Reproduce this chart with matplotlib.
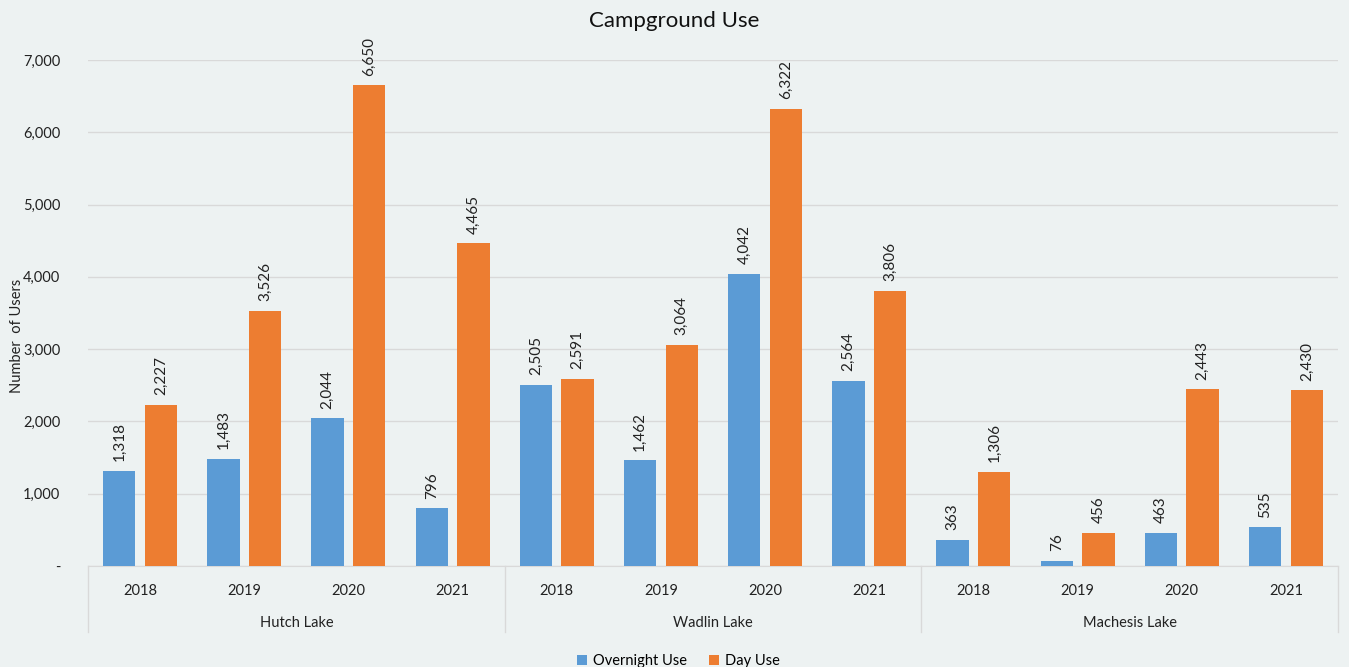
import matplotlib
matplotlib.use("Agg")
import matplotlib.pyplot as plt
import matplotlib.transforms as mtransforms
import numpy as np

plt.rcParams['font.family'] = ['Lato', 'DejaVu Sans']

lakes = ["Hutch Lake", "Wadlin Lake", "Machesis Lake"]
years = ["2018", "2019", "2020", "2021"]
overnight = [1318, 1483, 2044, 796, 2505, 1462, 4042, 2564, 363, 76, 463, 535]
day_use = [2227, 3526, 6650, 4465, 2591, 3064, 6322, 3806, 1306, 456, 2443, 2430]
yticks = [0, 1000, 2000, 3000, 4000, 5000, 6000, 7000]
ytick_labels = ["-", "1,000", "2,000", "3,000", "4,000", "5,000", "6,000", "7,000"]

bg = "#EDF2F2"
blue = "#5B9BD5"
orange = "#ED7D31"

W, H = 1349, 667
fig = plt.figure(figsize=(W / 100, H / 100), dpi=100, facecolor=bg)
ax = fig.add_axes([88 / W, 101 / H, 1250 / W, 506 / H], facecolor=bg)

n = len(overnight)
x = np.arange(n) + 0.5
bw = 0.31
off = 0.2
b1 = ax.bar(x - off, overnight, bw, color=blue, label="Overnight Use", zorder=3)
b2 = ax.bar(x + off, day_use, bw, color=orange, label="Day Use", zorder=3)

for bars, vals in ((b1, overnight), (b2, day_use)):
    for rect, v in zip(bars, vals):
        ax.annotate(f"{v:,}", (rect.get_x() + rect.get_width() / 2, rect.get_height()),
                    xytext=(0, 7), textcoords="offset points", rotation=90,
                    ha="center", va="bottom", fontsize=11, color="#222222",
                    annotation_clip=False)

ax.set_xlim(0, n)
ax.set_ylim(0, 7000)
ax.set_yticks(yticks)
ax.set_yticklabels(ytick_labels, fontsize=10.5, color="#222222")
ax.yaxis.grid(True, color="#D9D9D9", linewidth=1, zorder=0)
ax.tick_params(axis="y", length=0, pad=20)
for s in ("top", "right", "left"):
    ax.spines[s].set_visible(False)
ax.spines["bottom"].set_color("#D9D9D9")

ax.set_xticks(x)
ax.set_xticklabels(years * len(lakes), fontsize=10.5, color="#222222")
ax.tick_params(axis="x", length=0, pad=13)

trans = mtransforms.blended_transform_factory(ax.transData, ax.transAxes)
for i in range(len(lakes) + 1):
    ax.plot([i * 4, i * 4], [0, -0.13], transform=trans, color="#D9D9D9",
            linewidth=1, clip_on=False)
for i, lake in enumerate(lakes):
    ax.text(i * 4 + 2, -0.113, lake, transform=trans, ha="center", va="center",
            fontsize=10.5, color="#222222")

ax.set_ylabel("Number  of Users", fontsize=10.5, color="#222222")
ax.yaxis.set_label_coords(-0.051, 0.455)

fig.text(674 / W, 1 - 21 / H, "Campground Use", ha="center", va="center",
         fontsize=16, color="#111111")

fig.legend(handles=[b1, b2], loc="center", bbox_to_anchor=(678 / W, 1 - 661 / H),
           ncol=2, frameon=False, fontsize=10.5, handlelength=0.7, handleheight=0.7,
           columnspacing=1.5, handletextpad=0.4)

fig.savefig("out.png", dpi=100, facecolor=bg)
